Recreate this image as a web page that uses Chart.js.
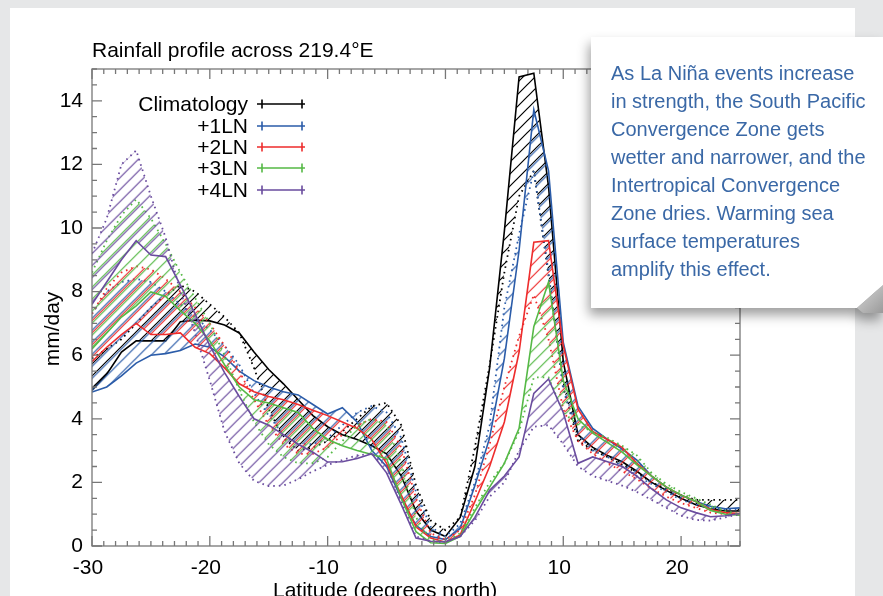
<!DOCTYPE html>
<html><head><meta charset="utf-8">
<script src="https://cdn.jsdelivr.net/npm/chart.js@4.4.1/dist/chart.umd.min.js"></script>
<style>
html,body{margin:0;padding:0;width:883px;height:596px;overflow:hidden;background:#e6e7e8;}
#panel{position:absolute;left:10px;top:8px;width:845px;height:600px;background:#fff;}
#cv{position:absolute;left:0;top:0;}
#callwrap{position:absolute;left:591px;top:37px;width:292px;height:290px;filter:drop-shadow(-2px 7px 6px rgba(0,0,0,0.38));}
#callout{position:absolute;left:0;top:0;width:292px;height:271px;background:#fff;clip-path:polygon(0 0,292px 0,292px 248px,266px 271px,0 271px);}
#fold{position:absolute;left:266px;top:248px;width:26px;height:28px;background:linear-gradient(135deg,#d8d8d8,#9a9a9a);clip-path:polygon(0 23px,26px 0,26px 28px,6px 28px);}
#ctext{position:absolute;left:20px;top:22px;font:20px/28px "Liberation Sans",Arial,sans-serif;color:#3a68a6;white-space:nowrap;}
</style></head>
<body>
<div id="panel"></div>
<canvas id="cv" width="883" height="596"></canvas>
<div id="callwrap"><div id="callout"><div id="ctext">As La Niña events increase<br>in strength, the South Pacific<br>Convergence Zone gets<br>wetter and narrower, and the<br>Intertropical Convergence<br>Zone dries. Warming sea<br>surface temperatures<br>amplify this effect.</div></div><div id="fold"></div></div>
<script>
// ---- data (mm/day) ----
const latitudes = [-30,-28.75,-27.5,-26.25,-25,-23.75,-22.5,-21.25,-20,-18.75,-17.5,-16.25,-15,-13.75,-12.5,-11.25,-10,-8.75,-7.5,-6.25,-5,-3.75,-2.5,-1.25,0,1.25,2.5,3.75,5,6.25,7.5,8.75,10,11.25,12.5,13.75,15,16.25,17.5,18.75,20,21.25,22.5,23.75,25];

const climatology      = [4.9,5.4,6.1,6.45,6.45,6.45,7.05,7.1,7.08,6.95,6.7,6.1,5.55,5.1,4.6,4.1,3.75,3.5,3.35,3.15,2.9,2.2,1.1,0.5,0.3,0.9,2.5,5.6,9.9,14.75,14.87,11.3,5.8,3.5,3.1,2.85,2.65,2.35,2.0,1.75,1.5,1.3,1.17,1.1,1.1];
const climatologyWarm  = [5.9,6.2,6.5,7.0,7.5,7.9,8.2,8.0,7.6,7.2,6.7,5.6,4.3,3.4,3.0,3.1,3.3,3.6,4.0,4.4,4.5,3.8,1.9,0.8,0.5,0.9,3.1,5.7,8.6,11.0,11.8,8.5,5.0,3.3,3.0,2.8,2.55,2.3,2.0,1.8,1.6,1.45,1.45,1.45,1.45];

const ln1      = [4.84,5.0,5.35,5.75,6.0,6.05,6.15,6.35,6.25,5.95,5.5,5.2,5.0,4.85,4.75,4.45,4.15,4.35,3.9,3.0,2.5,1.5,0.65,0.3,0.2,0.55,1.9,3.4,5.9,9.3,13.72,11.8,6.4,4.4,3.7,3.35,3.05,2.7,2.2,1.85,1.6,1.4,1.25,1.17,1.2];
const ln1Warm  = [7.3,8.0,8.3,8.4,8.3,8.0,7.6,7.2,6.8,6.3,5.7,4.8,4.1,3.5,3.2,3.2,3.4,3.8,4.2,4.4,4.2,3.4,1.7,0.6,0.3,0.7,2.0,3.8,7.5,9.8,11.8,8.6,4.9,3.5,3.0,2.8,2.5,2.2,1.95,1.7,1.45,1.3,1.2,1.15,1.15];

const ln2      = [5.8,6.25,6.65,7.0,6.65,6.65,6.7,6.25,6.05,5.6,5.1,4.85,4.7,4.6,4.45,4.27,4.1,3.9,3.7,3.35,2.6,1.6,0.6,0.25,0.12,0.35,1.4,2.5,3.9,6.1,9.55,9.6,6.3,4.3,3.6,3.35,3.1,2.6,2.2,1.85,1.6,1.4,1.15,1.05,1.02];
const ln2Warm  = [7.3,8.1,8.6,8.8,8.7,8.4,8.0,7.5,7.0,6.3,5.5,4.6,3.8,3.2,2.9,2.9,3.1,3.5,3.8,4.0,3.9,3.1,1.5,0.4,0.2,0.5,1.6,3.2,5.0,6.6,7.9,6.5,4.3,3.3,2.9,2.6,2.35,2.1,1.8,1.55,1.35,1.2,1.05,1.0,1.0];

const ln3      = [6.2,6.7,7.2,7.55,7.99,7.85,7.4,7.0,6.45,5.7,5.0,4.6,4.5,4.35,4.2,3.7,3.35,3.15,3.0,2.88,2.75,1.5,0.45,0.1,0.08,0.3,1.1,1.85,2.6,3.7,6.9,8.3,5.2,4.0,3.55,3.25,2.95,2.55,2.2,1.85,1.6,1.4,1.12,1.0,0.97];
const ln3Warm  = [8.6,9.6,10.4,10.9,10.3,9.5,8.6,7.8,7.0,6.0,4.9,3.9,3.2,2.8,2.6,2.6,2.8,3.3,3.8,4.0,3.8,2.6,0.9,0.2,0.12,0.4,1.2,2.0,2.6,3.6,5.3,5.3,4.2,3.8,3.6,3.4,3.15,2.85,2.3,1.95,1.7,1.5,1.3,1.1,1.0];

const ln4      = [7.6,8.3,9.0,9.6,9.15,9.1,8.2,7.3,6.3,5.45,4.7,4.0,3.8,3.5,3.2,2.95,2.64,2.65,2.75,2.9,2.3,1.3,0.25,0.15,0.13,0.3,0.9,1.75,2.2,2.8,4.8,5.25,4.2,2.6,2.8,2.65,2.5,2.2,1.8,1.45,1.2,1.05,0.92,0.95,1.02];
const ln4Warm  = [9.2,10.3,12.0,12.44,11.0,9.7,8.0,6.7,5.2,3.6,2.6,2.05,1.88,1.9,2.1,2.35,2.55,2.7,2.85,2.9,2.5,1.4,0.3,0.15,0.12,0.3,0.8,1.55,2.0,3.0,3.75,3.8,3.2,2.5,2.2,2.05,1.9,1.7,1.45,1.2,0.95,0.82,0.8,0.9,1.0];

const seriesNames = ['Climatology','+1LN','+2LN','+3LN','+4LN'];
const xTickLabels = [-30,-20,-10,0,10,20];
const yTickLabels = [0,2,4,6,8,10,12,14];

// ---- styling ----
const colors = ['#000000','#2b5ca9','#ee2d2d','#55b946','#6a4c9e'];
const FONT = '"Liberation Sans", Arial, Helvetica, sans-serif';
Chart.defaults.font.family = FONT;

function hatch(color, offset){
  const s = 12, c = document.createElement('canvas');
  c.width = s; c.height = s;
  const g = c.getContext('2d');
  g.strokeStyle = color; g.lineWidth = 1.2;
  g.beginPath();
  g.moveTo(0, s); g.lineTo(s, 0);
  g.moveTo(-s/2, s/2); g.lineTo(s/2, -s/2);
  g.moveTo(s/2, s*1.5); g.lineTo(s*1.5, s/2);
  g.stroke();
  const p = g.createPattern(c, 'repeat');
  if (p.setTransform) p.setTransform(new DOMMatrix().translate(offset, 0));
  return p;
}
const pts = ys => latitudes.map((x, i) => ({x: x, y: ys[i]}));

const pairs = [[climatology, climatologyWarm],[ln1, ln1Warm],[ln2, ln2Warm],[ln3, ln3Warm],[ln4, ln4Warm]];
const datasets = [];
pairs.forEach((pr, k) => {
  const ord = 5 - k;
  datasets.push({label: seriesNames[k], data: pts(pr[0]), borderColor: colors[k], borderWidth: 1.6,
    pointRadius: 0, tension: 0, fill: false, order: ord});
  datasets.push({label: seriesNames[k] + ' warm', data: pts(pr[1]), borderColor: colors[k], borderWidth: 1.8,
    borderDash: [1.6, 4], pointRadius: 0, tension: 0, fill: '-1', backgroundColor: hatch(colors[k], k * 2.4), order: ord});
});

const deco = {
  id: 'deco',
  afterDatasetsDraw(chart){
    const ctx = chart.ctx, a = chart.chartArea, xs = chart.scales.x, ys = chart.scales.y;
    ctx.save();
    ctx.strokeStyle = '#777'; ctx.lineWidth = 1.3;
    ctx.strokeRect(a.left, a.top, a.right - a.left, a.bottom - a.top);
    ctx.beginPath();
    for (let i = 0; i <= 55; i++) {           // one tick per degree
      const v = xs.min + i, p = xs.getPixelForValue(v);
      const L = (xTickLabels.includes(v)) ? 10 : 5;
      ctx.moveTo(p, a.bottom); ctx.lineTo(p, a.bottom - L);
      ctx.moveTo(p, a.top); ctx.lineTo(p, a.top + L);
    }
    for (let i = 0; i <= 30; i++) {           // one tick per 0.5 mm/day
      const v = i / 2, p = ys.getPixelForValue(v);
      const L = (yTickLabels.includes(v)) ? 10 : 5;
      ctx.moveTo(a.left, p); ctx.lineTo(a.left + L, p);
      ctx.moveTo(a.right, p); ctx.lineTo(a.right - L, p);
    }
    ctx.stroke();
    ctx.restore();
  },
  afterDraw(chart){
    const ctx = chart.ctx;
    ctx.save();
    ctx.fillStyle = '#000';
    ctx.font = '21px ' + FONT;
    ctx.textAlign = 'left'; ctx.textBaseline = 'alphabetic';
    ctx.fillText('Rainfall profile across 219.4°E', 92, 57);
    ctx.fillText('Latitude (degrees north)', 273, 597);
    ctx.save();
    ctx.translate(53, 329); ctx.rotate(-Math.PI / 2);
    ctx.textAlign = 'center'; ctx.textBaseline = 'middle';
    ctx.fillText('mm/day', 0, 0);
    ctx.restore();
    // legend
    const rows = [104, 126, 147, 168, 190];
    seriesNames.forEach((n, k) => {
      const y = rows[k];
      ctx.fillStyle = '#000';
      ctx.textAlign = 'right'; ctx.textBaseline = 'middle';
      ctx.fillText(n, 248, y + 1);
      ctx.strokeStyle = colors[k]; ctx.lineWidth = 1.6;
      ctx.beginPath();
      ctx.moveTo(257, y); ctx.lineTo(305, y);
      ctx.moveTo(262, y - 4.5); ctx.lineTo(262, y + 4.5);
      ctx.moveTo(302, y - 4.5); ctx.lineTo(302, y + 4.5);
      ctx.stroke();
    });
    ctx.restore();
  }
};

new Chart(document.getElementById('cv'), {
  type: 'line',
  data: {datasets: datasets},
  options: {
    responsive: false, animation: false, devicePixelRatio: 1,
    layout: {padding: {top: 69, right: 143, left: 0, bottom: 0}},
    plugins: {legend: {display: false}, tooltip: {enabled: false}, title: {display: false}},
    scales: {
      x: {type: 'linear', min: -30, max: 25,
        grid: {display: false, drawTicks: false}, border: {display: false},
        ticks: {stepSize: 10, color: '#000', font: {size: 21}, padding: 10, labelOffset: -4, maxRotation: 0},
        afterBuildTicks: s => { s.ticks = xTickLabels.map(v => ({value: v})); },
        afterFit: s => { s.height = 50; }
      },
      y: {min: 0, max: 15,
        grid: {display: false, drawTicks: false}, border: {display: false},
        ticks: {stepSize: 2, color: '#000', font: {size: 21}, padding: 9},
        afterBuildTicks: s => { s.ticks = yTickLabels.map(v => ({value: v})); },
        afterFit: s => { s.width = 92; }
      }
    }
  },
  plugins: [deco]
});
</script>
</body></html>
